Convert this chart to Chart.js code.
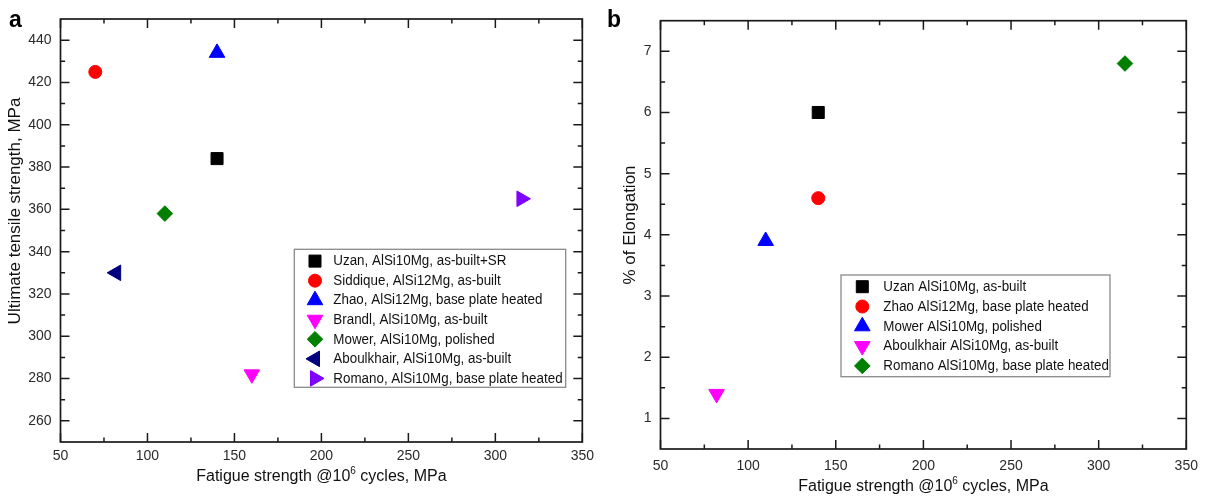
<!DOCTYPE html>
<html><head><meta charset="utf-8">
<script src="https://cdn.jsdelivr.net/npm/chart.js@4.4.1/dist/chart.umd.min.js"></script>
<style>
html,body{margin:0;padding:0;background:#fff;}
body{width:1208px;height:496px;position:relative;overflow:hidden;}
.panel{position:absolute;top:0;height:496px;}
#pa{left:0;width:600px;}
#pb{left:600px;width:608px;}
.tag{position:absolute;font:bold 23px 'Liberation Sans',Arial,sans-serif;line-height:1;color:#000;}
</style></head><body>
<div class="panel" id="pa"><canvas id="ca" width="600" height="496"></canvas></div>
<div class="panel" id="pb"><canvas id="cb" width="608" height="496"></canvas></div>
<div class="tag" style="left:9px;top:8px">a</div>
<div class="tag" style="left:607px;top:8px">b</div>
<script>
// ---------- data ----------
const xTickValues = [50, 100, 150, 200, 250, 300, 350];
const yTickValuesA = [260, 280, 300, 320, 340, 360, 380, 400, 420, 440];
const yTickValuesB = [1, 2, 3, 4, 5, 6, 7];

const seriesA = [
  'Uzan, AlSi10Mg, as-built+SR',
  'Siddique, AlSi12Mg, as-built',
  'Zhao, AlSi12Mg, base plate heated',
  'Brandl, AlSi10Mg, as-built',
  'Mower, AlSi10Mg, polished',
  'Aboulkhair, AlSi10Mg, as-built',
  'Romano, AlSi10Mg, base plate heated'
];
const fatigueA = [140, 70, 140, 160, 110, 82, 315];
const utsA = [384, 425, 434, 282, 358, 330, 365];

const seriesB = [
  'Uzan AlSi10Mg, as-built',
  'Zhao AlSi12Mg, base plate heated',
  'Mower AlSi10Mg, polished',
  'Aboulkhair AlSi10Mg, as-built',
  'Romano AlSi10Mg, base plate heated'
];
const fatigueB = [140, 140, 110, 82, 315];
const elongB = [6.0, 4.6, 3.9, 1.4, 6.8];

const xTitleParts = ['Fatigue strength @10', '6', ' cycles, MPa'];
const yTitleA = 'Ultimate tensile strength, MPa';
const yTitleB = '% of Elongation';

// ---------- styles ----------
const M = {
  square:   {style: 'rect', rot: 0, r: 8.5},
  circle:   {style: 'circle', rot: 0, r: 6.5},
  up:       {style: 'triangle', rot: 0, r: 9},
  down:     {style: 'triangle', rot: 180, r: 9},
  diamond:  {style: 'rectRot', rot: 0, r: 7.8},
  left:     {style: 'triangle', rot: 270, r: 9},
  right:    {style: 'triangle', rot: 90, r: 9}
};
const markersA = [M.square, M.circle, M.up, M.down, M.diamond, M.left, M.right];
const colorsA = ['#000000', '#ff0000', '#0000ff', '#ff00ff', '#007f00', '#00007f', '#7f00ff'];
const markersB = [M.square, M.circle, M.up, M.down, M.diamond];
const colorsB = ['#000000', '#ff0000', '#0000ff', '#ff00ff', '#007f00'];

const SANS = "'Liberation Sans',Arial,sans-serif";

// ---------- plugins ----------
const framePlugin = {
  id: 'frame',
  afterDraw(chart, args, o) {
    const {ctx, chartArea: a} = chart;
    const xs = chart.scales.x, ys = chart.scales.y;
    const mids = v => v.slice(1).map((d, i) => (d + v[i]) / 2);
    const xv = xs.ticks.map(t => t.value), yv = ys.ticks.map(t => t.value);
    ctx.save();
    ctx.strokeStyle = o.color;
    ctx.lineWidth = o.tickWidth;
    ctx.beginPath();
    const tx = (v, len) => {
      const p = xs.getPixelForValue(v);
      ctx.moveTo(p, a.bottom); ctx.lineTo(p, a.bottom - len);
      ctx.moveTo(p, a.top); ctx.lineTo(p, a.top + len);
    };
    const ty = (v, len) => {
      const p = ys.getPixelForValue(v);
      ctx.moveTo(a.left, p); ctx.lineTo(a.left + len, p);
      ctx.moveTo(a.right, p); ctx.lineTo(a.right - len, p);
    };
    xv.forEach(v => tx(v, o.major));
    mids(xv).forEach(v => tx(v, o.minor));
    yv.forEach(v => ty(v, o.major));
    mids(yv).forEach(v => ty(v, o.minor));
    ctx.stroke();
    ctx.lineWidth = o.width;
    ctx.strokeRect(a.left, a.top, a.right - a.left, a.bottom - a.top);
    ctx.restore();
  }
};

const boxLegendPlugin = {
  id: 'boxLegend',
  afterDraw(chart, args, o) {
    const ctx = chart.ctx;
    const ds = chart.data.datasets;
    ctx.save();
    ctx.fillStyle = '#ffffff';
    ctx.fillRect(o.x, o.y, o.w, o.h);
    ctx.strokeStyle = '#8a8a8a';
    ctx.lineWidth = 1.3;
    ctx.strokeRect(o.x, o.y, o.w, o.h);
    ds.forEach((d, i) => {
      const cy = o.y + o.firstRow + i * o.rowGap;
      ctx.fillStyle = d.pointBackgroundColor;
      ctx.strokeStyle = d.pointBorderColor;
      ctx.lineWidth = 1;
      Chart.helpers.drawPoint(ctx, {
        pointStyle: d.pointStyle, rotation: d.pointRotation,
        radius: d.pointRadius, borderWidth: 1
      }, o.x + o.markerX, cy);
      ctx.save();
      ctx.fillStyle = '#111';
      ctx.font = o.font;
      ctx.textAlign = 'left';
      ctx.textBaseline = 'middle';
      ctx.translate(o.x + o.textX, cy);
      ctx.scale(1, o.stretch);
      ctx.fillText(d.label, 0, 0);
      ctx.restore();
    });
    ctx.restore();
  }
};

const axisTitlePlugin = {
  id: 'axisTitles',
  afterDraw(chart, args, o) {
    const {ctx, chartArea: a} = chart;
    ctx.save();
    ctx.fillStyle = '#111';
    const [p1, p2, p3] = o.xParts;
    ctx.font = o.font; const w1 = ctx.measureText(p1).width; const w3 = ctx.measureText(p3).width;
    ctx.font = o.supFont; const w2 = ctx.measureText(p2).width;
    let x = (a.left + a.right) / 2 - (w1 + w2 + w3) / 2;
    ctx.textAlign = 'left'; ctx.textBaseline = 'alphabetic';
    ctx.font = o.font; ctx.fillText(p1, x, o.xBase); x += w1;
    ctx.font = o.supFont; ctx.fillText(p2, x, o.xBase - o.supRise); x += w2;
    ctx.font = o.font; ctx.fillText(p3, x, o.xBase);
    ctx.translate(o.yBase, o.yCenter);
    ctx.rotate(-Math.PI / 2);
    ctx.textAlign = 'center';
    ctx.font = o.yFont;
    ctx.fillText(o.yText, 0, 0);
    ctx.restore();
  }
};

// ---------- chart factory ----------
function build(canvas, cfg) {
  const W = canvas.width, H = canvas.height;
  const datasets = cfg.labels.map((lab, i) => ({
    label: lab,
    data: [{x: cfg.xs[i], y: cfg.ys[i]}],
    pointStyle: cfg.markers[i].style,
    pointRotation: cfg.markers[i].rot,
    pointRadius: cfg.markers[i].r,
    pointHoverRadius: cfg.markers[i].r,
    pointBackgroundColor: cfg.colors[i],
    pointBorderColor: cfg.colors[i],
    pointBorderWidth: 1,
    showLine: false
  }));
  const tickFont = {family: SANS, size: 14};
  return new Chart(canvas, {
    type: 'scatter',
    data: {datasets},
    options: {
      responsive: false, animation: false, devicePixelRatio: 1, events: [],
      layout: {padding: {top: cfg.area.top, right: W - cfg.area.right, left: 0, bottom: 0}},
      plugins: {
        legend: {display: false}, tooltip: {enabled: false},
        frame: {color: '#1a1a1a', width: 1.7, tickWidth: 1.5, major: 9, minor: 4.6},
        boxLegend: cfg.legend,
        axisTitles: cfg.titles
      },
      scales: {
        x: {
          type: 'linear', position: 'bottom', min: 50, max: 350,
          afterBuildTicks: s => { s.ticks = xTickValues.map(v => ({value: v})); },
          afterFit: s => { s.height = H - cfg.area.bottom; },
          grid: {display: false, drawTicks: false}, border: {display: false},
          ticks: {font: tickFont, color: '#2a2a2a', padding: cfg.xPad, autoSkip: false, maxRotation: 0}
        },
        y: {
          type: 'linear', position: 'left', min: cfg.yMin, max: cfg.yMax,
          afterBuildTicks: s => { s.ticks = cfg.yTicks.map(v => ({value: v})); },
          afterFit: s => { s.width = cfg.area.left; },
          grid: {display: false, drawTicks: false}, border: {display: false},
          ticks: {font: tickFont, color: '#2a2a2a', padding: 9, autoSkip: false}
        }
      }
    },
    plugins: [framePlugin, boxLegendPlugin, axisTitlePlugin]
  });
}

build(document.getElementById('ca'), {
  labels: seriesA, xs: fatigueA, ys: utsA, markers: markersA, colors: colorsA,
  yMin: 250, yMax: 450, yTicks: yTickValuesA,
  area: {left: 60.5, right: 586, top: 19, bottom: 442},
  xPad: 6,
  legend: {x: 294.3, y: 249.3, w: 271.4, h: 138, markerX: 20.7, textX: 39, firstRow: 11.8, rowGap: 19.55,
           font: "13.4px " + SANS, stretch: 1.16},
  titles: {xParts: xTitleParts, font: '16px ' + SANS, supFont: '10px ' + SANS, supRise: 7, xBase: 481,
           yText: yTitleA, yFont: '17px ' + SANS, yBase: 20, yCenter: 211}
});

build(document.getElementById('cb'), {
  labels: seriesB, xs: fatigueB, ys: elongB, markers: markersB, colors: colorsB,
  yMin: 0.5, yMax: 7.5, yTicks: yTickValuesB,
  area: {left: 60.5, right: 586.3, top: 20.7, bottom: 449},
  xPad: 9,
  legend: {x: 241, y: 275, w: 269, h: 101.7, markerX: 21.3, textX: 42.3, firstRow: 11.7, rowGap: 19.8,
           font: "13.4px " + SANS, stretch: 1.16},
  titles: {xParts: xTitleParts, font: '16px ' + SANS, supFont: '10px ' + SANS, supRise: 7, xBase: 491,
           yText: yTitleB, yFont: '17px ' + SANS, yBase: 35, yCenter: 225}
});
</script>
</body></html>
